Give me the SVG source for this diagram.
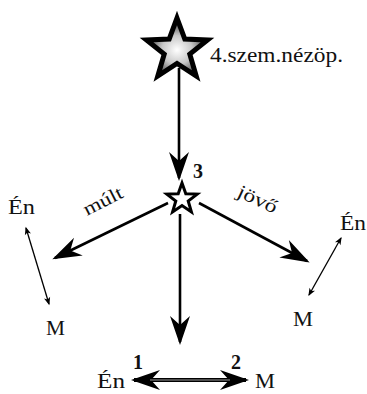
<svg xmlns="http://www.w3.org/2000/svg" width="367" height="394" viewBox="0 0 367 394">
<style>
.t{font-family:"Liberation Serif","Times New Roman",serif;fill:#111}
.b{font-weight:bold}
.main{stroke:#000;stroke-width:2.6;fill:none}
.thin{stroke:#000;stroke-width:1.3;fill:none}
</style>
<defs>
<radialGradient id="sg" cx="0.5" cy="0.55" r="0.55">
<stop offset="0" stop-color="#fff"/>
<stop offset="0.45" stop-color="#c8c8c8"/>
<stop offset="1" stop-color="#222"/>
</radialGradient>
<marker id="big" markerUnits="userSpaceOnUse" markerWidth="40" markerHeight="30" refX="0" refY="0" viewBox="-30 -15 40 30" orient="auto-start-reverse" overflow="visible">
<path d="M3,0 L-26,-10 L-17,0 L-26,10 Z" fill="#000"/>
</marker>
<marker id="sm" markerUnits="userSpaceOnUse" markerWidth="14" markerHeight="10" refX="0" refY="0" viewBox="-12 -6 14 12" orient="auto-start-reverse" overflow="visible">
<path d="M1.5,0 L-8,-3.8 L-5.5,0 L-8,3.8 Z" fill="#000"/>
</marker>
</defs>

<g id="connectors">
<line class="main" x1="179" y1="68" x2="179" y2="178" marker-end="url(#big)"/>
<line class="main" x1="180" y1="214" x2="180" y2="342" marker-end="url(#big)"/>
<line class="main" x1="168" y1="203" x2="55" y2="258" marker-end="url(#big)"/>
<line class="main" x1="199" y1="203" x2="307" y2="261" marker-end="url(#big)"/>
<g id="bottom-arrow">
<line x1="134" y1="380" x2="246" y2="380" stroke="#000" stroke-width="4" marker-start="url(#big)" marker-end="url(#big)"/>
<line x1="150" y1="380" x2="230" y2="380" stroke="#9a9a9a" stroke-width="1.2"/>
</g>
<line class="thin" x1="26" y1="228" x2="49" y2="304" marker-start="url(#sm)" marker-end="url(#sm)"/>
<line class="thin" x1="341" y1="238" x2="309" y2="295" marker-start="url(#sm)" marker-end="url(#sm)"/>
</g>

<g id="star4">
<polygon points="177,18 184.8,39.1 207.5,40 189.8,54.1 196.2,76 177,63.5 157.8,76 164.2,54.1 146.5,40 169.2,39.1" fill="url(#sg)" stroke="#000" stroke-width="5" stroke-linejoin="miter"/>
<text class="t" x="210" y="62" font-size="21" textLength="133" lengthAdjust="spacingAndGlyphs">4.szem.nézöp.</text>
</g>

<g id="star3">
<polygon points="182,183 185.8,193.7 197.2,194.1 188.2,201 191.4,211.9 182,205.5 172.6,211.9 175.8,201 166.8,194.1 178.2,193.7" fill="#fff" stroke="#000" stroke-width="3" stroke-linejoin="miter"/>
<text class="t b" x="193" y="178" font-size="20">3</text>
</g>

<g id="past">
<text class="t" font-size="19" transform="translate(87,216) rotate(-27)" textLength="42" lengthAdjust="spacingAndGlyphs">múlt</text>
<text class="t" x="8" y="214" font-size="20" textLength="27" lengthAdjust="spacingAndGlyphs">Én</text>
<text class="t" x="46" y="335" font-size="20" textLength="19" lengthAdjust="spacingAndGlyphs">M</text>
</g>

<g id="future">
<text class="t" font-size="19" transform="translate(236,196) rotate(25)" textLength="42" lengthAdjust="spacingAndGlyphs">jövő</text>
<text class="t" x="340" y="230" font-size="20" textLength="26" lengthAdjust="spacingAndGlyphs">Én</text>
<text class="t" x="293" y="326" font-size="20" textLength="20" lengthAdjust="spacingAndGlyphs">M</text>
</g>

<g id="present">
<text class="t b" x="133" y="369" font-size="20">1</text>
<text class="t b" x="231" y="369" font-size="20">2</text>
<text class="t" x="97" y="388" font-size="20" textLength="28" lengthAdjust="spacingAndGlyphs">Én</text>
<text class="t" x="255" y="388" font-size="20" textLength="20" lengthAdjust="spacingAndGlyphs">M</text>
</g>
</svg>
